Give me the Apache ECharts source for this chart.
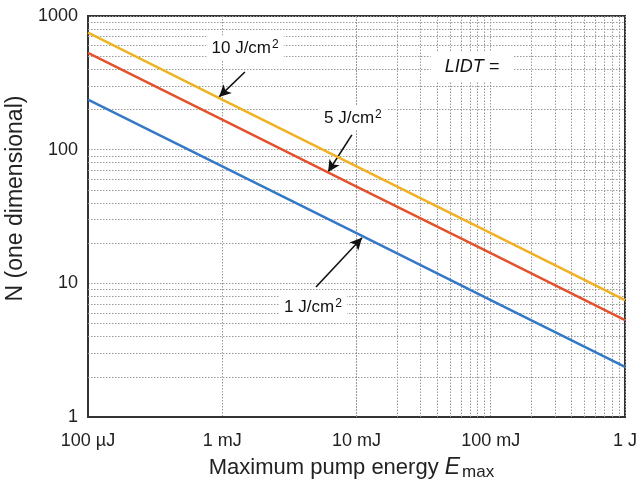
<!DOCTYPE html>
<html><head><meta charset="utf-8">
<script src="https://cdn.jsdelivr.net/npm/echarts@6/dist/echarts.min.js"></script>
<style>html,body{margin:0;padding:0;background:#fff}#c{width:638px;height:489px}</style>
</head><body><div id="c"></div>
<script>
const energy = [1e-4, 1e-3, 1e-2, 1e-1, 1];
const lidt10 = [750, 237, 75, 23.7, 7.5];
const lidt5 = [530, 168, 53, 16.8, 5.3];
const lidt1 = [237, 75, 23.7, 7.5, 2.37];
const xTickLabels = {'0.0001':'100 µJ','0.001':'1 mJ','0.01':'10 mJ','0.1':'100 mJ','1':'1 J'};
const yTickLabels = {'1':'1','10':'10','100':'100','1000':'1000'};
const mantissas = [2,3,4,5,6,7,8,9];
const xDecades = [1e-4, 1e-3, 1e-2, 1e-1];
const yDecades = [1, 10, 100];
const labels = [
  {num:'10', at:[1.48e-3, 577], from:[1.475e-3, 381], to:[9.46e-4, 248]},
  {num:'5', at:[9.4e-3, 173], from:[9.24e-3, 129], to:[6.14e-3, 68]},
  {num:'1', at:[4.74e-3, 6.65], from:[4.99e-3, 9.4], to:[1.1e-2, 21.9]}
];
const lidtLabel = {text:'LIDT =', at:[0.0724, 416]};

const minorX = [], minorY = [];
xDecades.forEach(d => mantissas.forEach(m => minorX.push(+(m*d).toPrecision(3))));
yDecades.forEach(d => mantissas.forEach(m => minorY.push(m*d)));

const font = 'Liberation Sans, Arial, sans-serif';
const toPairs = (ys) => energy.map((x,i)=>[x, ys[i]]);
const gridLineStyle = {color:'#9a9a9a', width:1, type:[1.5,1.5]};

const chart = echarts.init(document.getElementById('c'));
chart.setOption({
  animation:false,
  backgroundColor:'#fff',
  grid:{left:88, right:13, top:16, bottom:72, show:true, borderColor:'#333', borderWidth:2, backgroundColor:'#fff',
    containLabel:false, outerBoundsMode:'none'},
  xAxis:{type:'log', logBase:10, min:1e-4, max:1,
    axisLine:{show:true, lineStyle:{color:'#333', width:2}}, axisTick:{show:false},
    splitLine:{show:true, lineStyle:gridLineStyle},
    axisLabel:{fontFamily:font, fontSize:18, color:'#222', margin:15,
      formatter:(v)=>xTickLabels[String(+v.toPrecision(3))] || ''},
    name:'Maximum pump energy {i|E}{s|max}', nameLocation:'middle', nameGap:37,
    nameTextStyle:{fontFamily:font, fontSize:22, color:'#222', padding:[0,10,0,0],
      rich:{i:{fontFamily:font, fontSize:23, fontStyle:'italic', color:'#222'},
            s:{fontFamily:font, fontSize:17, color:'#222', verticalAlign:'bottom', padding:[10,0,0,2]}}}
  },
  yAxis:{type:'log', logBase:10, min:1, max:1000,
    axisLine:{show:true, lineStyle:{color:'#333', width:2}}, axisTick:{show:false},
    splitLine:{show:true, lineStyle:gridLineStyle},
    axisLabel:{fontFamily:font, fontSize:18, color:'#222', margin:10,
      formatter:(v)=>yTickLabels[String(Math.round(v))] || ''},
    name:'N (one dimensional)', nameLocation:'middle', nameGap:54, nameRotate:90,
    nameTextStyle:{fontFamily:font, fontSize:23, color:'#222', padding:[0,0,0,36]}
  },
  series:[
    {type:'line', silent:true, data:[], symbol:'none',
      markLine:{silent:true, symbol:['none','none'], label:{show:false},
        lineStyle:gridLineStyle,
        data: minorX.map(v=>({xAxis:v})).concat(minorY.map(v=>({yAxis:v})))}},
    {type:'line', name:'1', data:toPairs(lidt1), symbol:'none', lineStyle:{color:'#3479c6', width:2.5}, z:5},
    {type:'line', name:'5', data:toPairs(lidt5), symbol:'none', lineStyle:{color:'#e4522b', width:2.5}, z:5},
    {type:'line', name:'10', data:toPairs(lidt10), symbol:'none', lineStyle:{color:'#efb223', width:2.5}, z:5},
    {type:'line', data:[], symbol:'none', z:10,
      markLine:{silent:true, symbol:['none','arrow'], symbolSize:[9,12], label:{show:false},
        lineStyle:{color:'#111', width:1.6, type:'solid'},
        data: labels.map(l=>[{coord:l.from},{coord:l.to}])},
      markPoint:{silent:true, symbol:'rect', symbolSize:0,
        data: labels.map(l=>({coord:l.at, value:l.num,
          label:{show:true, position:'inside', formatter:l.num + ' J/cm{sup|2}', fontFamily:font, fontSize:17, color:'#111',
            backgroundColor:'#fff', padding:[3,5],
            rich:{sup:{fontFamily:font, fontSize:12, color:'#111', verticalAlign:'top', padding:[0,0,7,1]}}}}))
          .concat([{coord:lidtLabel.at, value:lidtLabel.text,
            label:{show:true, position:'inside', formatter:lidtLabel.text, fontFamily:font, fontSize:18, fontStyle:'italic', color:'#111',
              backgroundColor:'#fff', padding:[6,14]}}])}
    }
  ]
});
</script></body></html>
